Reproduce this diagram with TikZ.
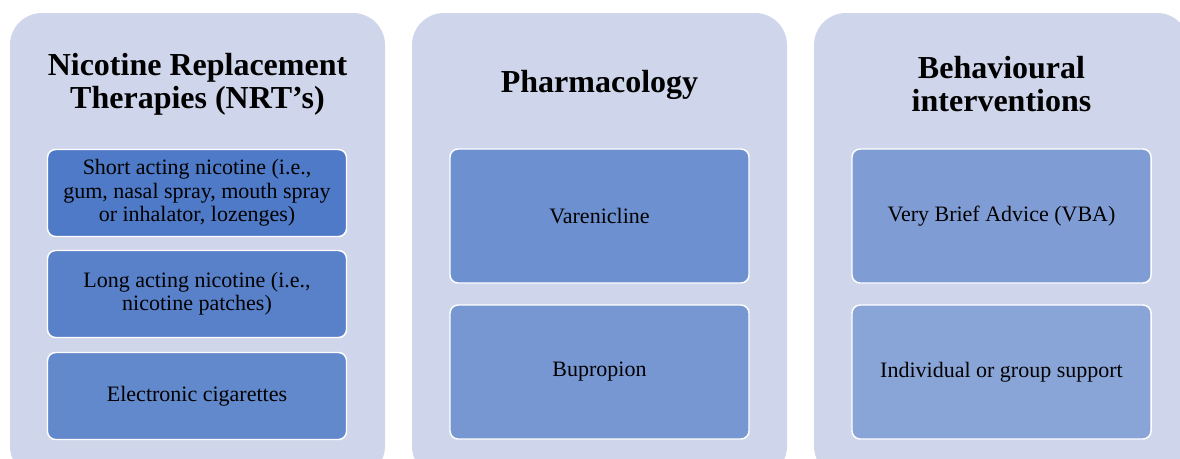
\documentclass[tikz,border=0pt]{standalone}
\usepackage{fontspec}
\setmainfont{Liberation Serif}
\usepackage{tikz}
\definecolor{PanelFill}{HTML}{CFD5EA}
\definecolor{BoxOne}{HTML}{4F7AC7}
\definecolor{BoxTwo}{HTML}{5981CA}
\definecolor{BoxThree}{HTML}{6389CD}
\definecolor{BoxFour}{HTML}{6D91D0}
\definecolor{BoxFive}{HTML}{7797D3}
\definecolor{BoxSix}{HTML}{7F9DD4}
\definecolor{BoxSeven}{HTML}{89A5D8}

\begin{document}
\begin{tikzpicture}[x=0.75pt,y=-0.75pt,
  panel/.style={draw=none, fill=PanelFill, rounded corners=24pt, minimum width=281.25pt, minimum height=348.75pt, inner sep=0pt},
  heading/.style={align=center, font=\bfseries\fontsize{24}{25}\selectfont},
  item/.style={draw=white, line width=1.1pt, rounded corners=6pt, minimum width=224.25pt, inner sep=0pt, align=center, font=\fontsize{16.5}{17.5}\selectfont},
  short/.style={item, minimum height=65.25pt},
  tall/.style={item, minimum height=100.5pt}]
  \useasboundingbox (0,0) rectangle (1180,458);
  \clip (0,0) rectangle (1180,458);
  % three panels
  \node[panel] (nrt) at (197.5,245.5) {};
  \node[panel] (pharm) at (599.5,245.5) {};
  \node[panel] (behav) at (1001.5,245.5) {};
  \node[heading] (nrttitle) at (197.5,84) {Nicotine Replacement\\Therapies (NRT’s)};
  \node[heading] (pharmtitle) at (599.5,85) {Pharmacology};
  \node[heading] (behavtitle) at (1001.5,84) {Behavioural\\interventions};
  % NRT items
  \node[short, fill=BoxOne] (shortact) at (197,193) {Short acting nicotine (i.e.,\\gum, nasal spray, mouth spray\\or inhalator, lozenges)};
  \node[short, fill=BoxTwo] (longact) at (197,294) {Long acting nicotine (i.e.,\\nicotine patches)};
  \node[short, fill=BoxThree] (ecig) at (197,396) {Electronic cigarettes};
  % pharmacology items
  \node[tall, fill=BoxFour] (varen) at (599.5,216) {Varenicline};
  \node[tall, fill=BoxFive] (bupro) at (599.5,372) {Bupropion};
  % behavioural items
  \node[tall, fill=BoxSix] (vba) at (1001.5,216) {Very Brief Advice (VBA)};
  \node[tall, fill=BoxSeven] (support) at (1001.5,372) {Individual or group support};
\end{tikzpicture}
\end{document}
